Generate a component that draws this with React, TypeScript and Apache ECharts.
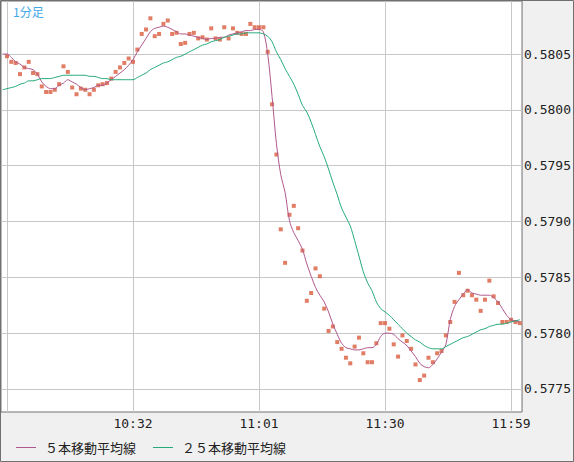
import React, { useEffect, useRef } from 'react';
import * as echarts from 'echarts';

// minutes after 10:00
const closeStart = 3;
const maStart = 2;

const closes = [
  0.58048, 0.58043, 0.58042, 0.58032, 0.58038, 0.58043, 0.58033, 0.58032, 0.58021, 0.58016,
  0.58016, 0.58018, 0.58023, 0.58039, 0.58034, 0.58020, 0.58014, 0.58019, 0.58018, 0.58014,
  0.58018, 0.58022, 0.58023, 0.58024, 0.58028, 0.58034, 0.58038, 0.58042, 0.58046, 0.58043,
  0.58054, 0.58068, 0.58072, 0.58082, 0.58066, 0.58068, 0.58077, 0.58080, 0.58068, 0.58069,
  0.58059, 0.58060, 0.58068, 0.58069, 0.58064, 0.58065, 0.58063, 0.58073, 0.58064, 0.58063,
  0.58074, 0.58064, 0.58073, 0.58069, 0.58068, 0.58068, 0.58077, 0.58074, 0.58074, 0.58074,
  0.58052, 0.58005, 0.57960, 0.57893, 0.57863, 0.57906, 0.57914, 0.57894, 0.57874, 0.57829,
  0.57836, 0.57858, 0.57851, 0.57822, 0.57802, 0.57806, 0.57792, 0.57786, 0.57778, 0.57773,
  0.57788, 0.57796, 0.57782, 0.57774, 0.57774, 0.57791, 0.57809, 0.57809, 0.57804, 0.57790,
  0.57779, 0.57798, 0.57793, 0.57786, 0.57772, 0.57758, 0.57762, 0.57778, 0.57774, 0.57782,
  0.57784, 0.57798, 0.57810, 0.57828, 0.57854, 0.57834, 0.57838, 0.57834, 0.57830, 0.57820,
  0.57830, 0.57847, 0.57833, 0.57827, 0.57810, 0.57810, 0.57812, 0.57810, 0.57809,
];

const ma5 = [
  0.58050, 0.58050, 0.58047, 0.58043, 0.58041, 0.58038, 0.58037, 0.58036, 0.58032, 0.58025,
  0.58021, 0.58019, 0.58019, 0.58022, 0.58024, 0.58027, 0.58025, 0.58023, 0.58020, 0.58018,
  0.58019, 0.58020, 0.58022, 0.58022, 0.58024, 0.58027, 0.58030, 0.58033, 0.58036, 0.58040,
  0.58045, 0.58052, 0.58058, 0.58064, 0.58070, 0.58073, 0.58074, 0.58075, 0.58074, 0.58072,
  0.58070, 0.58068, 0.58068, 0.58067, 0.58066, 0.58065, 0.58064, 0.58063, 0.58064, 0.58064,
  0.58065, 0.58065, 0.58067, 0.58068, 0.58069, 0.58070, 0.58071, 0.58071, 0.58072, 0.58072,
  0.58070, 0.58050, 0.58012, 0.57970, 0.57942, 0.57926, 0.57901, 0.57890, 0.57883, 0.57875,
  0.57862, 0.57851, 0.57841, 0.57834, 0.57828, 0.57819, 0.57808, 0.57799, 0.57791, 0.57787,
  0.57786, 0.57785, 0.57785, 0.57786, 0.57787, 0.57787, 0.57790, 0.57797, 0.57800, 0.57800,
  0.57799, 0.57795, 0.57792, 0.57789, 0.57784, 0.57779, 0.57773, 0.57770, 0.57769, 0.57772,
  0.57777, 0.57783, 0.57790, 0.57812, 0.57824, 0.57830, 0.57835, 0.57839, 0.57836, 0.57835,
  0.57834, 0.57834, 0.57834, 0.57832, 0.57828, 0.57822, 0.57816, 0.57812, 0.57811, 0.57810,
];

const ma25 = [
  0.58018, 0.58019, 0.58020, 0.58021, 0.58023, 0.58024, 0.58026, 0.58026, 0.58027, 0.58028,
  0.58028, 0.58028, 0.58029, 0.58030, 0.58031, 0.58031, 0.58031, 0.58031, 0.58031, 0.58031,
  0.58030, 0.58030, 0.58029, 0.58028, 0.58028, 0.58027, 0.58027, 0.58027, 0.58027, 0.58027,
  0.58027, 0.58029, 0.58031, 0.58033, 0.58036, 0.58038, 0.58040, 0.58042, 0.58043, 0.58045,
  0.58047, 0.58048, 0.58050, 0.58052, 0.58054, 0.58056, 0.58058, 0.58059, 0.58061, 0.58062,
  0.58063, 0.58065, 0.58066, 0.58067, 0.58068, 0.58068, 0.58069, 0.58069, 0.58069, 0.58069,
  0.58068, 0.58066, 0.58061, 0.58052, 0.58045, 0.58037, 0.58030, 0.58023, 0.58014, 0.58004,
  0.57998, 0.57989, 0.57978, 0.57967, 0.57958, 0.57947, 0.57935, 0.57924, 0.57912, 0.57904,
  0.57896, 0.57883, 0.57869, 0.57855, 0.57845, 0.57838, 0.57828, 0.57822, 0.57819, 0.57816,
  0.57812, 0.57808, 0.57804, 0.57800, 0.57797, 0.57794, 0.57792, 0.57789, 0.57787, 0.57786,
  0.57786, 0.57786, 0.57788, 0.57790, 0.57792, 0.57794, 0.57796, 0.57797, 0.57799, 0.57801,
  0.57803, 0.57804, 0.57806, 0.57807, 0.57808, 0.57808, 0.57809, 0.57810, 0.57811, 0.57812,
];

const xGridMinutes = [3, 32, 61, 90, 119];
const xLabelMinutes = [32, 61, 90, 119];
const yTicks = [0.5775, 0.578, 0.5785, 0.579, 0.5795, 0.58, 0.5805];
const seriesNames = ['５本移動平均線', '２５本移動平均線'];
const chartTitle = '1分足';

function fmtTime(m: number): string {
  const h = 10 + Math.floor(m / 60);
  const mm = Math.round(m % 60);
  return h + ':' + String(mm).padStart(2, '0');
}

export default function App() {
  const ref = useRef<HTMLDivElement>(null);
  useEffect(() => {
    if (!ref.current) return;
    const chart = echarts.init(ref.current, null, { renderer: 'svg' });
    const monoFont = 'DejaVu Sans Mono';
    const cjkFont = 'Noto Sans CJK JP';
    const ma5Color = '#b0588c';
    const ma25Color = '#25aa78';
    chart.setOption({
      animation: false,
      backgroundColor: '#f0f0f0',
      title: {
        text: chartTitle,
        left: 13,
        top: 5,
        padding: 0,
        textStyle: { color: '#3ea8e8', fontSize: 12, fontWeight: 'normal', fontFamily: cjkFont },
      },
      legend: {
        left: 16,
        top: 441,
        padding: 0,
        icon: 'rect',
        itemWidth: 20,
        itemHeight: 1,
        itemGap: 17,
        data: seriesNames,
        textStyle: { fontFamily: cjkFont, fontSize: 13, color: '#222', padding: [0, 0, 0, 4] },
      },
      grid: {
        left: 1,
        right: 51,
        top: 1,
        bottom: 50,
        show: true,
        backgroundColor: '#ffffff',
        borderColor: '#707070',
        borderWidth: 1,
      },
      xAxis: {
        type: 'value',
        min: 1.6218,
        max: 121.527,
        axisLine: { show: false },
        axisTick: { show: false, customValues: xGridMinutes },
        axisLabel: {
          customValues: xLabelMinutes,
          formatter: (v: number) => fmtTime(v),
          margin: 5,
          fontFamily: monoFont,
          fontSize: 13,
          color: '#222',
        },
        splitLine: { show: true, lineStyle: { color: '#c8c8c8', width: 1 } },
      },
      yAxis: {
        type: 'value',
        position: 'right',
        min: 0.577294,
        max: 0.580975,
        axisLine: { show: false },
        axisTick: { show: false, customValues: yTicks },
        axisLabel: {
          customValues: yTicks,
          formatter: (v: number) => v.toFixed(4),
          margin: 2,
          fontFamily: monoFont,
          fontSize: 13,
          color: '#222',
        },
        splitLine: { show: true, lineStyle: { color: '#c8c8c8', width: 1 } },
      },
      graphic: [
        {
          type: 'rect',
          silent: true,
          z: 100,
          shape: { x: 0.5, y: 0.5, width: 573, height: 461 },
          style: { fill: 'none', stroke: '#707070', lineWidth: 1 },
        },
      ],
      series: [
        {
          type: 'scatter',
          name: 'close',
          symbol: 'rect',
          symbolSize: 4,
          itemStyle: { color: '#d95c3e' },
          data: closes.map((v, i) => [closeStart + i, v]),
          z: 2,
        },
        {
          type: 'line',
          name: seriesNames[0],
          symbol: 'none',
          smooth: 0.3,
          lineStyle: { color: ma5Color, width: 1 },
          itemStyle: { color: ma5Color },
          data: ma5.map((v, i) => [maStart + i, v]),
          z: 3,
        },
        {
          type: 'line',
          name: seriesNames[1],
          symbol: 'none',
          smooth: 0.3,
          lineStyle: { color: ma25Color, width: 1 },
          itemStyle: { color: ma25Color },
          data: ma25.map((v, i) => [maStart + i, v]),
          z: 3,
        },
      ],
    });
    return () => chart.dispose();
  }, []);
  return (
    <div
      ref={ref}
      style={{ position: 'absolute', left: 0, top: 0, width: 574, height: 462 }}
    />
  );
}
